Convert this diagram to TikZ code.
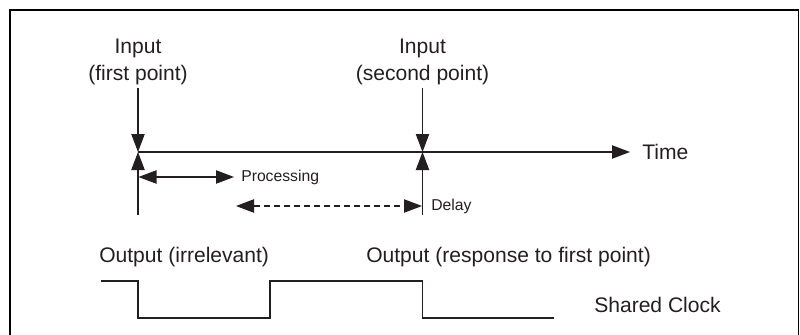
\documentclass[tikz,border=0pt]{standalone}
\usepackage{fontspec}
\setmainfont{Liberation Sans}
\usetikzlibrary{arrows.meta}
\definecolor{ink}{HTML}{231F20}
\tikzset{
  wire/.style={draw=ink, line width=0.8pt},
  tipped/.style={wire, -{Triangle[length=13.5pt,width=10pt]}},
  bothtipped/.style={wire, {Triangle[length=13.5pt,width=10pt]}-{Triangle[length=13.5pt,width=10pt]}},
  biglabel/.style={text=ink, inner sep=0pt, font=\fontsize{15.8}{20}\selectfont},
  smalllabel/.style={text=ink, inner sep=0pt, font=\fontsize{11.8}{14}\selectfont},
}
\begin{document}
\begin{tikzpicture}[x=0.75pt, y=-0.75pt]
\useasboundingbox (0,0) rectangle (800,335);

% frame
\draw[black, line width=1.6pt] (10,335) -- (10,10) -- (798.5,10);
\draw[black, line width=0.8pt] (798.5,10) -- (798.5,335);

% key points on the time axis
\coordinate (p1) at (138,152);
\coordinate (p2) at (422.5,152);
\coordinate (tEnd) at (630,152);
\coordinate (in1) at (138,88);
\coordinate (in2) at (422.5,88);
\coordinate (b1) at (138,215);
\coordinate (b2) at (422.5,215);

% input labels
\node[biglabel, align=center] (lin1) at (138,62) {Input\\(first point)};
\node[biglabel, align=center] (lin2) at (422.5,62) {Input\\(second point)};

% time axis
\draw[tipped] (p1) -- (tEnd);
\node[biglabel, anchor=west] (ltime) at (642,152) {Time};

% input arrows and markers
\draw[tipped] (in1) -- (p1);
\draw[tipped] (in2) -- (p2);
\draw[tipped] (b1) -- (p1);
\draw[tipped] (b2) -- (p2);

% processing span
\coordinate (pr1) at (138.5,177);
\coordinate (pr2) at (234,177);
\draw[bothtipped] (pr1) -- (pr2);
\node[smalllabel, anchor=west] (lproc) at (241,177) {Processing};

% delay span
\coordinate (d1) at (236,206);
\coordinate (d2) at (422,206);
\draw[bothtipped, dash pattern=on 4.5pt off 3pt] (d1) -- (d2);
\node[smalllabel, anchor=west] (ldelay) at (431,206) {Delay};

% output labels
\node[biglabel, anchor=west] (lout1) at (99,257) {Output (irrelevant)};
\node[biglabel, anchor=west] (lout2) at (366,257) {Output (response to first point)};

% shared clock waveform
\draw[wire] (101,281) -- (138,281) -- (138,318) -- (270,318) -- (270,281)
  -- (422.5,281) -- (422.5,318) -- (554,318);
\node[biglabel, anchor=west] (lclk) at (594,305) {Shared Clock};
\end{tikzpicture}
\end{document}
